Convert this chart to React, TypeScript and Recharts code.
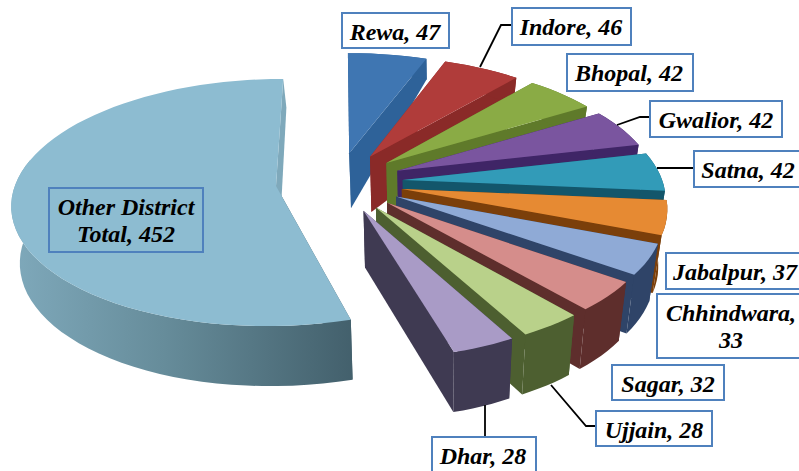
import { Pie, PieChart } from "recharts";

const DISTRICTS = ["Rewa", "Indore", "Bhopal", "Gwalior", "Satna", "Jabalpur", "Chhindwara", "Sagar", "Ujjain", "Dhar", "Other District Total"];
const CASES = [47, 46, 42, 42, 42, 37, 33, 32, 28, 28, 452];

const TOP_COLORS = ["#3F76B2", "#B03C3A", "#8AAB45", "#7A559F", "#329BB8", "#E68A33", "#8FAAD6", "#D58D8B", "#B9D18A", "#A99BC6", "#8DBCD1"];
const SIDE_COLORS = ["#2E6299", "#8A2A28", "#5F7A2A", "#3F2566", "#13566B", "#7B3F0A", "#2F4468", "#5E2E2C", "#4D5F30", "#3F3A52", "url(#otherRim)"];

// label boxes: x, y, w, h, text centre, leader polyline, wrap = length of the first text line
const LABEL_BOXES = [
  { x: 342, y: 13, w: 107, h: 35, tx: 395 },
  { x: 512, y: 8, w: 119, h: 37, tx: 571, line: "480,67 501,25 512,25" },
  { x: 567, y: 54, w: 126, h: 37, tx: 629 },
  { x: 650, y: 101, w: 132, h: 36, tx: 716, line: "617,125 640,117 650,117" },
  { x: 694, y: 151, w: 115, h: 36, tx: 748, line: "657,168 694,168" },
  { x: 666, y: 253, w: 140, h: 36, tx: 735 },
  { x: 657, y: 294, w: 150, h: 64, tx: 731, wrap: 11 },
  { x: 612, y: 365, w: 112, h: 35, tx: 668 },
  { x: 596, y: 411, w: 116, h: 35, tx: 654, line: "551,385 586,426 596,426" },
  { x: 432, y: 437, w: 104, h: 50, tx: 483, line: "485,405 485,437" },
  { x: 49, y: 188, w: 154, h: 64, tx: 126, wrap: 14, clear: true },
];

const RAD = Math.PI / 180;
const TILT = 0.463;
const PERSPECTIVE = 0.132;
const EXPLODE = [0.25, 0.25, 0.25, 0.25, 0.25, 0.25, 0.25, 0.25, 0.25, 0.25, 0.24];

// plane point (unit radius) -> screen
function project(cx: number, cy: number, radius: number, X: number, Y: number) {
  const w = 1 + PERSPECTIVE * Y;
  return { x: cx + (radius * X) / w, y: cy - (radius * TILT * Y) / w, Y };
}

function drop(p: { x: number; y: number; Y: number }) {
  const depth = p.Y > 0.25 ? Math.max(18, 55 - (p.Y - 0.25) * 37) : Math.min(60, 55 - (p.Y - 0.25) * 4);
  const lean = p.x < 440 ? 0.02 : 0.04;
  return { x: p.x + (440 - p.x) * lean, y: p.y + depth, Y: p.Y };
}

const toPath = (pts: { x: number; y: number }[]) =>
  "M" + pts.map((p) => `${p.x.toFixed(1)},${p.y.toFixed(1)}`).join("L") + "Z";

function Slice3D(props: any) {
  const { cx, cy, outerRadius, startAngle, endAngle, index } = props;
  const from = 90 - startAngle;
  const to = 90 - endAngle;
  const mid = ((from + to) / 2) * RAD;
  const ex = EXPLODE[index] * Math.sin(mid);
  const ey = EXPLODE[index] * Math.cos(mid);
  const at = (X: number, Y: number) => project(cx, cy, outerRadius, X, Y);

  const apex = at(ex, ey);
  const arc = [];
  const rim = [];
  const steps = Math.max(6, Math.ceil((to - from) / 3));
  for (let i = 0; i <= steps; i++) {
    const deg = from + ((to - from) * i) / steps;
    const p = at(ex + Math.sin(deg * RAD), ey + Math.cos(deg * RAD));
    arc.push(p);
    // the far side of the big slice has no visible wall
    if (deg <= 285) rim.push(p);
  }
  const first = arc[0];
  const last = arc[arc.length - 1];
  const side = SIDE_COLORS[index];

  return (
    <g>
      {index === 10 && (
        <defs>
          <linearGradient id="otherRim" x1="0" y1="0" x2="1" y2="0">
            <stop offset="0%" stopColor="#7FA9BB" />
            <stop offset="45%" stopColor="#668C9A" />
            <stop offset="100%" stopColor="#43606C" />
          </linearGradient>
        </defs>
      )}
      <path d={toPath([apex, first, drop(first), drop(apex)])} fill={index === 10 ? "#43606C" : side} />
      <path d={toPath([apex, last, drop(last), drop(apex)])} fill={index === 10 ? "#7FA9BB" : side} />
      <path d={toPath([...rim, ...rim.map(drop).reverse()])} fill={side} />
      <path d={toPath([apex, ...arc])} fill={TOP_COLORS[index]} />
    </g>
  );
}

function BoxLabel(props: any) {
  const { index } = props;
  const box = LABEL_BOXES[index];
  const text = `${DISTRICTS[index]}, ${CASES[index]}`;
  const lines = box.wrap ? [text.slice(0, box.wrap), text.slice(box.wrap).trim()] : [text];
  return (
    <g>
      {box.line && <polyline points={box.line} fill="none" stroke="#000" strokeWidth={1.8} />}
      <rect x={box.x} y={box.y} width={box.w} height={box.h} fill={box.clear ? "none" : "#fff"} stroke="#4F81BD" strokeWidth={2} />
      {lines.map((line, i) => (
        <text
          key={line}
          x={box.tx}
          y={box.y + 27 + i * 27}
          textAnchor="middle"
          fontFamily="'Liberation Serif', serif"
          fontWeight="bold"
          fontStyle="italic"
          fontSize={24}
          fill="#000"
        >
          {line}
        </text>
      ))}
    </g>
  );
}

const chartData = DISTRICTS.map((name, i) => ({ name, value: CASES[i] }));

export default function App() {
  return (
    <div style={{ position: "absolute", left: 0, top: 0, width: 799, height: 471 }}>
      <PieChart width={799} height={471} margin={{ top: 0, right: 0, bottom: 0, left: 0 }}>
        <Pie
          data={chartData}
          dataKey="value"
          nameKey="name"
          cx={338}
          cy={182}
          outerRadius={260}
          startAngle={90}
          endAngle={-270}
          stroke="none"
          isAnimationActive={false}
          shape={Slice3D}
          label={BoxLabel}
          labelLine={false}
        />
      </PieChart>
    </div>
  );
}
